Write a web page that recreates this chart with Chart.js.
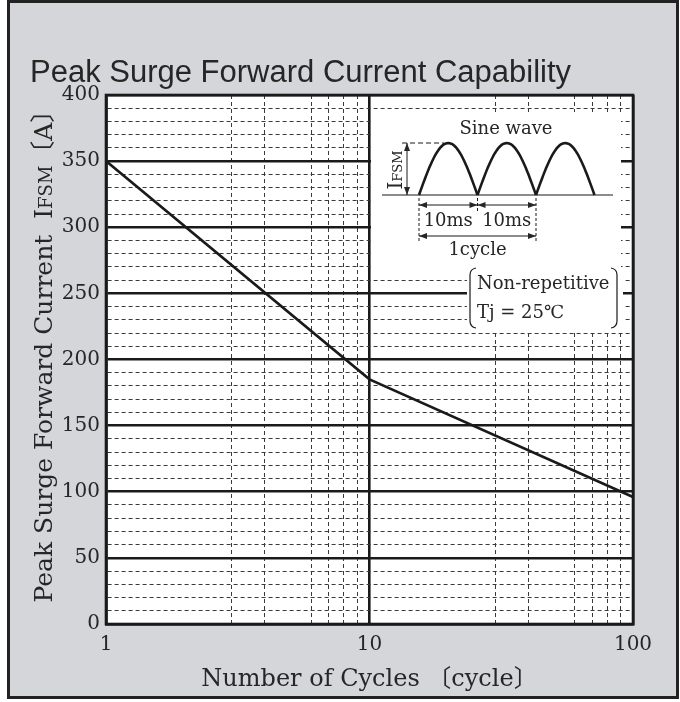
<!DOCTYPE html>
<html>
<head>
<meta charset="utf-8">
<script src="https://cdn.jsdelivr.net/npm/chart.js@4.4.1/dist/chart.umd.min.js"></script>
<style>
    body { margin: 0; background: #fff; }
    #wrap { width: 680px; height: 702px; }
</style>
</head>
<body>
<div id="wrap"><canvas id="surgeChart" width="680" height="702"></canvas></div>
<script>
/* ===============================
   DATA
=============================== */

const cycles = [1, 10, 100];
const surgeCurrent = [350, 185, 96];

const xGridValues = [1, 3, 4, 6, 7, 8, 9, 10, 30, 40, 60, 70, 80, 90, 100];
const xTickLabels = [1, 10, 100];
const yMajorStep = 50;
const yMinorStep = 10;

/* ===============================
   STYLE
=============================== */

const SERIF = "'DejaVu Serif', 'Noto Sans CJK JP', serif";
const SANS = "'Liberation Sans', Arial, sans-serif";
const INK = "#262626";
const LINE = "#1a1a1a";
const PANEL = "#d4d6d9";

function isMajorX(c) {
    return c.tick && xTickLabels.includes(c.tick.value);
}

function isMajorY(c) {
    return c.tick && c.tick.value % yMajorStep === 0;
}

function arrow(ctx, x1, y1, x2, y2) {
    const a = Math.atan2(y2 - y1, x2 - x1);
    ctx.beginPath();
    ctx.moveTo(x1, y1);
    ctx.lineTo(x2, y2);
    ctx.stroke();
    [[x2, y2, a], [x1, y1, a + Math.PI]].forEach(([x, y, ang]) => {
        ctx.beginPath();
        ctx.moveTo(x, y);
        ctx.lineTo(x - 8 * Math.cos(ang) + 3 * Math.sin(ang), y - 8 * Math.sin(ang) - 3 * Math.cos(ang));
        ctx.lineTo(x - 8 * Math.cos(ang) - 3 * Math.sin(ang), y - 8 * Math.sin(ang) + 3 * Math.cos(ang));
        ctx.closePath();
        ctx.fill();
    });
}

/* ===============================
   PLUGIN: panel, titles, inset
=============================== */

const decorPlugin = {
    id: "decor",

    beforeDraw(chart) {
        const ctx = chart.ctx;
        ctx.save();
        ctx.fillStyle = "#fff";
        ctx.fillRect(0, 0, chart.width, chart.height);
        ctx.fillStyle = PANEL;
        ctx.fillRect(8, 2, 669, 695);
        ctx.strokeStyle = "#222";
        ctx.lineWidth = 3;
        ctx.strokeRect(8.5, 1.5, 669, 696);

        // white plot background
        const a = chart.chartArea;
        ctx.fillStyle = "#fff";
        ctx.fillRect(a.left, a.top, a.right - a.left, a.bottom - a.top);

        // main title
        ctx.fillStyle = INK;
        ctx.font = "31px " + SANS;
        ctx.textBaseline = "alphabetic";
        ctx.fillText("Peak Surge Forward Current Capability", 30, 82);

        // y axis title with small caps subscript
        const parts = [
            { t: "Peak Surge Forward Current  I", s: 25 },
            { t: "FSM", s: 18 },
            { t: "〔A〕", s: 25 }
        ];
        let total = 0;
        parts.forEach(p => {
            ctx.font = p.s + "px " + SERIF;
            p.w = ctx.measureText(p.t).width;
            total += p.w;
        });
        ctx.translate(52, 350);
        ctx.rotate(-Math.PI / 2);
        let x = -total / 2;
        parts.forEach(p => {
            ctx.font = p.s + "px " + SERIF;
            ctx.fillText(p.t, x, 0);
            x += p.w;
        });
        ctx.restore();
    },

    beforeDatasetsDraw(chart) {
        const ctx = chart.ctx;
        const a = chart.chartArea;
        const L = a.left, T = a.top;

        ctx.save();

        // white boxes of the inset
        ctx.fillStyle = "#fff";
        ctx.fillRect(L + 265, T + 17, 250, 157);
        ctx.fillRect(L + 361, T + 173, 156, 62);

        ctx.strokeStyle = LINE;
        ctx.fillStyle = INK;

        // sine humps
        const base = T + 100;
        const hw = 58.5;
        const hh = 52;
        ctx.lineWidth = 1.2;
        ctx.beginPath();
        ctx.moveTo(L + 276, base);
        ctx.lineTo(L + 507, base);
        ctx.stroke();

        ctx.lineWidth = 2.6;
        for (let k = 0; k < 3; k++) {
            const x0 = L + 313 + k * hw;
            ctx.beginPath();
            for (let i = 0; i <= 40; i++) {
                const px = x0 + hw * i / 40;
                const py = base - hh * Math.sin(Math.PI * i / 40);
                if (i === 0) ctx.moveTo(px, py);
                else ctx.lineTo(px, py);
            }
            ctx.stroke();
        }

        // peak dashed line and IFSM arrow
        ctx.lineWidth = 1;
        ctx.setLineDash([5, 3]);
        ctx.beginPath();
        ctx.moveTo(L + 296, base - hh);
        ctx.lineTo(L + 338, base - hh);
        ctx.stroke();
        ctx.setLineDash([]);
        arrow(ctx, L + 301, base - hh, L + 301, base);

        // time span arrows
        const xa = L + 313, xb = L + 313 + hw, xc = L + 313 + 2 * hw;
        ctx.setLineDash([3, 2]);
        ctx.beginPath();
        ctx.moveTo(xa, T + 103); ctx.lineTo(xa, T + 146);
        ctx.moveTo(xc, T + 103); ctx.lineTo(xc, T + 146);
        ctx.moveTo(xb, T + 103); ctx.lineTo(xb, T + 116);
        ctx.stroke();
        ctx.setLineDash([]);
        arrow(ctx, xa, T + 110, xb, T + 110);
        arrow(ctx, xb, T + 110, xc, T + 110);
        arrow(ctx, xa, T + 141, xc, T + 141);

        // inset text
        ctx.textAlign = "center";
        ctx.textBaseline = "middle";
        ctx.font = "18px " + SERIF;
        ctx.fillText("Sine wave", L + 400, T + 34);
        ctx.fillText("10ms", (xa + xb) / 2, T + 126);
        ctx.fillText("10ms", (xb + xc) / 2, T + 126);
        ctx.fillText("1cycle", xb, T + 155);

        ctx.textAlign = "left";
        ctx.fillText("Non-repetitive", L + 371, T + 189);
        ctx.fillText("Tj = 25℃", L + 371, T + 218);

        // brackets
        ctx.lineWidth = 1.2;
        ctx.beginPath();
        ctx.moveTo(L + 370, T + 173);
        ctx.quadraticCurveTo(L + 364, T + 174, L + 364, T + 180);
        ctx.lineTo(L + 364, T + 226);
        ctx.quadraticCurveTo(L + 364, T + 232, L + 370, T + 233);
        ctx.moveTo(L + 505, T + 173);
        ctx.quadraticCurveTo(L + 511, T + 174, L + 511, T + 180);
        ctx.lineTo(L + 511, T + 226);
        ctx.quadraticCurveTo(L + 511, T + 232, L + 505, T + 233);
        ctx.stroke();

        // rotated IFSM label
        ctx.translate(L + 296, T + 75);
        ctx.rotate(-Math.PI / 2);
        ctx.textAlign = "left";
        ctx.textBaseline = "alphabetic";
        ctx.font = "20px " + SERIF;
        const wI = ctx.measureText("I").width;
        ctx.font = "13px " + SERIF;
        const wF = ctx.measureText("FSM").width;
        const sx = -(wI + wF) / 2;
        ctx.font = "20px " + SERIF;
        ctx.fillText("I", sx, 0);
        ctx.font = "13px " + SERIF;
        ctx.fillText("FSM", sx + wI, 0);
        ctx.restore();

        // plot frame
        ctx.save();
        ctx.strokeStyle = LINE;
        ctx.lineWidth = 2.6;
        ctx.strokeRect(a.left, a.top, a.right - a.left, a.bottom - a.top);
        ctx.restore();
    }
};

/* ===============================
   CREATE CHART
=============================== */

const ctx = document.getElementById("surgeChart").getContext("2d");

new Chart(ctx, {

    type: "line",

    data: {
        datasets: [
            {
                label: "IFSM",
                data: cycles.map((c, i) => ({ x: c, y: surgeCurrent[i] })),
                borderColor: LINE,
                borderWidth: 2.6,
                pointRadius: 0,
                tension: 0,
                fill: false
            }
        ]
    },

    options: {

        responsive: false,
        animation: false,

        layout: {
            padding: { left: 8, top: 95, right: 47, bottom: 0 }
        },

        plugins: {
            legend: { display: false },
            tooltip: { enabled: false }
        },

        scales: {

            x: {
                type: "logarithmic",
                min: 1,
                max: 100,
                afterBuildTicks: scale => {
                    scale.ticks = xGridValues.map(v => ({ value: v }));
                },
                afterFit: scale => { scale.height = 78; },
                ticks: {
                    autoSkip: false,
                    maxRotation: 0,
                    padding: 9,
                    color: INK,
                    font: { family: SERIF, size: 20 },
                    callback: v => xTickLabels.includes(v) ? String(v) : ""
                },
                grid: {
                    drawTicks: false,
                    color: c => isMajorX(c) ? LINE : "#3a3a3a",
                    lineWidth: c => isMajorX(c) ? 2.6 : 1
                },
                border: {
                    display: true,
                    color: LINE,
                    width: 2.6,
                    dash: c => isMajorX(c) ? [] : [4, 3]
                },
                title: {
                    display: true,
                    text: "Number of Cycles 〔cycle〕",
                    color: INK,
                    font: { family: SERIF, size: 24 },
                    padding: { top: 0, bottom: 8 }
                }
            },

            y: {
                min: 0,
                max: 400,
                afterFit: scale => { scale.width = 98; },
                ticks: {
                    stepSize: yMinorStep,
                    autoSkip: false,
                    padding: 6,
                    color: INK,
                    font: { family: SERIF, size: 20 },
                    callback: v => v % yMajorStep === 0 ? v : ""
                },
                grid: {
                    drawTicks: false,
                    color: c => isMajorY(c) ? LINE : "#3a3a3a",
                    lineWidth: c => isMajorY(c) ? 2.6 : 1
                },
                border: {
                    display: true,
                    color: LINE,
                    width: 2.6,
                    dash: c => isMajorY(c) ? [] : [4, 3]
                }
            }

        }

    },

    plugins: [decorPlugin]

});
</script>
</body>
</html>
